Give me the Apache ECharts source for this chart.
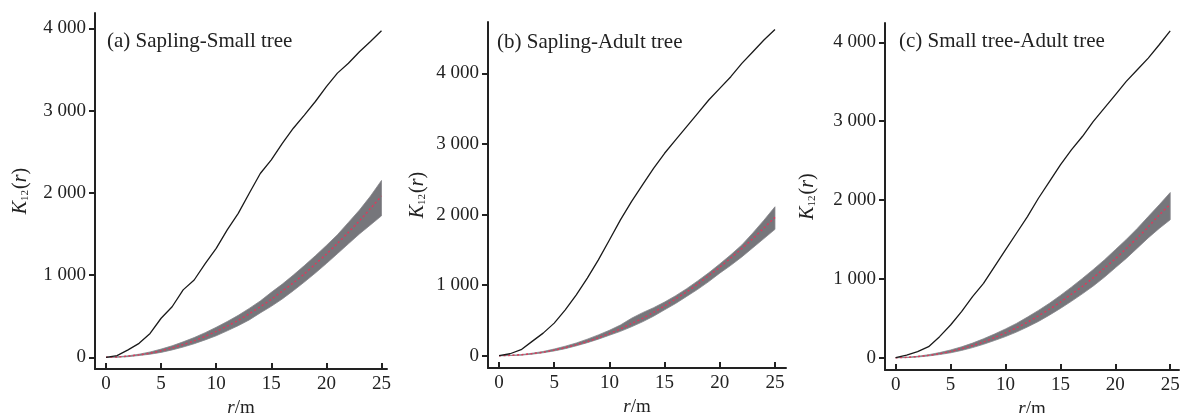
<!DOCTYPE html>
<html>
<head>
<meta charset="utf-8">
<script src="https://cdn.jsdelivr.net/npm/echarts@6/dist/echarts.min.js"></script>
<style>
  html, body { margin: 0; padding: 0; background: #fff; }
  #chart { width: 1180px; height: 413px; }
</style>
</head>
<body>
<div id="chart"></div>
<script>
// ---- data ----
const rValues = [0,1,2,3,4,5,6,7,8,9,10,11,12,13,14,15,16,17,18,19,20,21,22,23,24,25];
const xTicks = [0, 5, 10, 15, 20, 25];
const yTicks = [0, 1000, 2000, 3000, 4000];
const panelTitles = ['(a) Sapling-Small tree', '(b) Sapling-Adult tree', '(c) Small tree-Adult tree'];

// observed K12(r)
const observedA = [0,20,90,170,290,475,615,820,940,1140,1325,1550,1750,1995,2235,2400,2600,2785,2945,3110,3290,3455,3575,3715,3840,3970];
const observedB = [0,28,85,203,320,462,650,863,1100,1358,1640,1925,2184,2420,2655,2868,3057,3245,3434,3623,3788,3953,4142,4307,4472,4623];
const observedC = [0,34,76,140,267,415,584,775,944,1156,1367,1579,1790,2023,2235,2447,2637,2806,2997,3166,3335,3505,3653,3801,3970,4145];

// simulation envelope (upper / lower) and its middle (red dotted)
const upperA = [0,6,18,38,65,100,140,188,240,300,365,435,510,595,685,790,890,1000,1115,1235,1360,1490,1640,1790,1960,2150];
const lowerA = [0,1,8,22,38,60,90,125,165,212,262,322,385,455,540,620,710,810,915,1025,1140,1260,1380,1500,1610,1720];
const middleA = [0,5,15,30,50,80,115,155,200,255,315,380,450,530,615,705,805,905,1015,1135,1255,1385,1520,1660,1810,1960];

const upperB = [0,5,15,35,60,95,135,180,235,295,360,435,530,610,680,760,850,950,1060,1175,1300,1430,1570,1740,1920,2110];
const lowerB = [0,2,8,22,42,68,100,140,185,235,290,345,410,480,560,650,740,840,940,1050,1170,1280,1400,1530,1660,1790];
const middleB = [0,5,15,30,50,80,115,155,200,255,315,380,455,530,615,705,805,905,1015,1135,1255,1385,1520,1660,1810,1960];

const upperC = [0,5,18,38,65,98,138,185,240,300,365,435,515,600,690,790,895,1005,1120,1240,1370,1500,1640,1790,1940,2095];
const lowerC = [0,1,9,22,40,62,92,128,170,218,268,325,390,460,540,625,715,810,910,1020,1140,1260,1390,1520,1640,1750];
const middleC = [0,5,15,30,50,80,115,155,200,255,315,380,450,530,615,705,805,905,1015,1135,1255,1385,1520,1660,1810,1945];

// ---- layout ----
const grids = [
  { left: 95,  top: 13, width: 292, height: 356 },
  { left: 488, top: 22, width: 298, height: 346 },
  { left: 885, top: 23, width: 294, height: 347 }
];
const xRanges = [[-1, 25.5], [-1, 26], [-0.97, 25.8]];
const yRanges = [[-142, 4186], [-174, 4728], [-156, 4246]];
const yNameGaps = [64, 60, 67];
const titlePos = [[107, 31], [497, 32], [899, 31]];

const panels = [
  { obs: observedA, up: upperA, lo: lowerA, mid: middleA },
  { obs: observedB, up: upperB, lo: lowerB, mid: middleB },
  { obs: observedC, up: upperC, lo: lowerC, mid: middleC }
];

const SERIF = '"Liberation Serif", "DejaVu Serif", serif';

function fmtThousands(v) {
  if (v >= 1000) {
    const th = Math.floor(v / 1000);
    const rest = String(v % 1000).padStart(3, '0');
    return th + ' ' + rest;
  }
  return String(v);
}

// envelope polygon drawn through the axes' scales
function renderBand(params, api) {
  if (params.dataIndexInside !== 0) return null;
  const n = params.dataInsideLength;
  const top = [], bottom = [];
  for (let j = 0; j < n; j++) {
    const x = api.value(0, j);
    top.push(api.coord([x, api.value(2, j)]));
    bottom.push(api.coord([x, api.value(1, j)]));
  }
  const pts = top.concat(bottom.reverse());
  return {
    type: 'polygon',
    shape: { points: pts, smooth: 0 },
    style: { fill: '#76767b', stroke: '#85858a', lineWidth: 0.8 }
  };
}

const option = {
  backgroundColor: '#fff',
  animation: false,
  title: panelTitles.map((t, i) => ({
    text: t,
    left: titlePos[i][0],
    top: titlePos[i][1],
    padding: 0,
    textStyle: { fontFamily: SERIF, fontSize: 21, fontWeight: 'normal', color: '#222' }
  })),
  grid: grids.map(g => Object.assign({ containLabel: false, outerBoundsMode: 'none' }, g)),
  xAxis: grids.map((g, i) => ({
    type: 'value',
    gridIndex: i,
    min: xRanges[i][0],
    max: xRanges[i][1],
    name: '{i|r}{n|/m}',
    nameLocation: 'middle',
    nameGap: 26,
    nameTextStyle: {
      rich: {
        i: { fontFamily: SERIF, fontStyle: 'italic', fontSize: 19, color: '#222' },
        n: { fontFamily: SERIF, fontSize: 19, color: '#222' }
      }
    },
    splitLine: { show: false },
    axisLine: { onZero: false, lineStyle: { color: '#222', width: 2 } },
    axisTick: { inside: true, length: 6, customValues: xTicks, lineStyle: { color: '#222', width: 2 } },
    axisLabel: { customValues: xTicks, margin: 6, fontFamily: SERIF, fontSize: 19, color: '#222' }
  })),
  yAxis: grids.map((g, i) => ({
    type: 'value',
    gridIndex: i,
    min: yRanges[i][0],
    max: yRanges[i][1],
    name: '{k|K}{s|12}{n|(}{k|r}{n|)}',
    nameLocation: 'middle',
    nameGap: yNameGaps[i],
    nameRotate: 90,
    nameTextStyle: {
      rich: {
        k: { fontFamily: SERIF, fontStyle: 'italic', fontSize: 20, color: '#222' },
        s: { fontFamily: SERIF, fontSize: 11, color: '#222', verticalAlign: 'bottom', padding: [9, 1, 0, 0] },
        n: { fontFamily: SERIF, fontSize: 20, color: '#222' }
      }
    },
    splitLine: { show: false },
    axisLine: { onZero: false, lineStyle: { color: '#222', width: 2 } },
    axisTick: { inside: false, length: 6, customValues: yTicks, lineStyle: { color: '#222', width: 2 } },
    axisLabel: {
      customValues: yTicks, margin: 9, fontFamily: SERIF, fontSize: 19, color: '#222',
      formatter: v => fmtThousands(v)
    }
  })),
  series: []
};

panels.forEach((p, i) => {
  option.series.push({
    type: 'custom', xAxisIndex: i, yAxisIndex: i,
    data: rValues.map((r, k) => [r, p.lo[k], p.up[k]]),
    encode: { x: 0, y: [1, 2] },
    renderItem: renderBand, silent: true, z: 2
  });
  option.series.push({
    type: 'line', xAxisIndex: i, yAxisIndex: i,
    data: rValues.map((r, k) => [r, p.mid[k]]), symbol: 'none', smooth: 0.3,
    lineStyle: { color: '#dc3a5c', width: 1.5, type: [2, 2.5] }, z: 3
  });
  option.series.push({
    type: 'line', xAxisIndex: i, yAxisIndex: i,
    data: rValues.map((r, k) => [r, p.obs[k]]), symbol: 'none',
    lineStyle: { color: '#1a1a1a', width: 1.3 }, z: 4
  });
});

const chart = echarts.init(document.getElementById('chart'), null, { renderer: 'canvas' });
chart.setOption(option);
</script>
</body>
</html>
